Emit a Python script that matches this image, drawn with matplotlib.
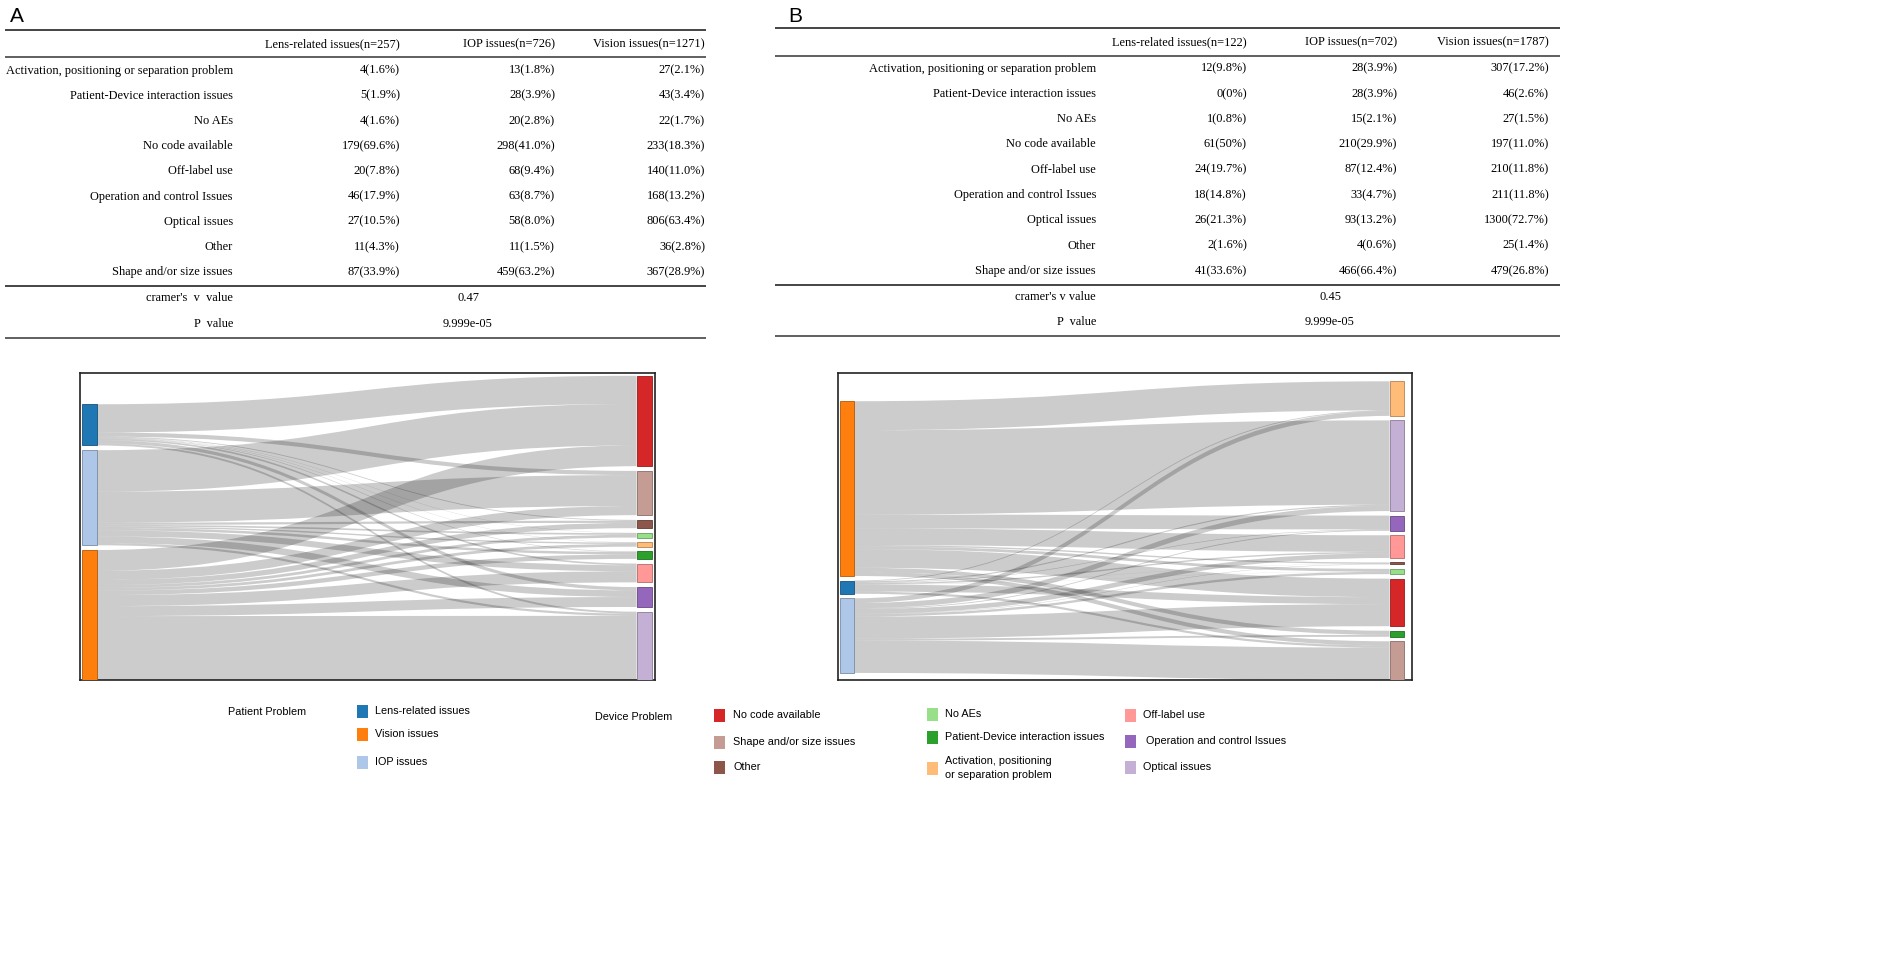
import numpy as np
import matplotlib.pyplot as plt
from matplotlib.path import Path
from matplotlib.patches import PathPatch, Rectangle
import matplotlib.colors as mcolors

W, H = 1902, 956

# ---------------- table data ----------------
row_labels = ['Activation, positioning or separation problem',
              'Patient-Device interaction issues', 'No AEs', 'No code available',
              'Off-label use', 'Operation and control Issues', 'Optical issues',
              'Other', 'Shape and/or size issues']

headers_a = ['Lens-related issues(n=257)', 'IOP issues(n=726)', 'Vision issues(n=1271)']
lens_a = ['4(1.6%)', '5(1.9%)', '4(1.6%)', '179(69.6%)', '20(7.8%)', '46(17.9%)',
          '27(10.5%)', '11(4.3%)', '87(33.9%)']
iop_a = ['13(1.8%)', '28(3.9%)', '20(2.8%)', '298(41.0%)', '68(9.4%)', '63(8.7%)',
         '58(8.0%)', '11(1.5%)', '459(63.2%)']
vision_a = ['27(2.1%)', '43(3.4%)', '22(1.7%)', '233(18.3%)', '140(11.0%)', '168(13.2%)',
            '806(63.4%)', '36(2.8%)', '367(28.9%)']
cramer_a = '0.47'
pval_a = '9.999e-05'

headers_b = ['Lens-related issues(n=122)', 'IOP issues(n=702)', 'Vision issues(n=1787)']
lens_b = ['12(9.8%)', '0(0%)', '1(0.8%)', '61(50%)', '24(19.7%)', '18(14.8%)',
          '26(21.3%)', '2(1.6%)', '41(33.6%)']
iop_b = ['28(3.9%)', '28(3.9%)', '15(2.1%)', '210(29.9%)', '87(12.4%)', '33(4.7%)',
         '93(13.2%)', '4(0.6%)', '466(66.4%)']
vision_b = ['307(17.2%)', '46(2.6%)', '27(1.5%)', '197(11.0%)', '210(11.8%)', '211(11.8%)',
            '1300(72.7%)', '25(1.4%)', '479(26.8%)']
cramer_b = '0.45'
pval_b = '9.999e-05'

# ---------------- sankey data (link widths) ----------------
patient_a = ['Lens-related issues', 'IOP issues', 'Vision issues']
device_a = ['No code available', 'Shape and/or size issues', 'Other', 'No AEs',
            'Activation, positioning or separation problem', 'Patient-Device interaction issues',
            'Off-label use', 'Operation and control Issues', 'Optical issues']
flow_a_lens = [102, 15, 3, 1, 1, 2, 6, 12, 7]
flow_a_iop = [150, 112, 8, 6, 5, 9, 22, 24, 8]
flow_a_vision = [75, 33, 19, 10, 10, 16, 40, 36, 235]

patient_b = ['Vision issues', 'Lens-related issues', 'IOP issues']
device_b = ['Activation, positioning or separation problem', 'Optical issues',
            'Operation and control Issues', 'Off-label use', 'Other', 'No AEs',
            'No code available', 'Patient-Device interaction issues', 'Shape and/or size issues']
flow_b_vision = [105, 305, 50, 60, 5, 10, 67, 15, 15]
flow_b_lens = [3, 4, 2, 5, 0.5, 0.5, 25, 0, 8]
flow_b_iop = [17, 19, 3, 17, 1.5, 8.5, 80, 7, 117]

colors = {
    'Lens-related issues': '#1f77b4',
    'Vision issues': '#ff7f0e',
    'IOP issues': '#aec7e8',
    'No code available': '#d62728',
    'Shape and/or size issues': '#c49c94',
    'Other': '#8c564b',
    'No AEs': '#98df8a',
    'Patient-Device interaction issues': '#2ca02c',
    'Activation, positioning or separation problem': '#ffbb78',
    'Off-label use': '#ff9896',
    'Operation and control Issues': '#9467bd',
    'Optical issues': '#c5b0d5',
}

SERIF = ['Liberation Serif', 'DejaVu Serif']
SANS = ['Liberation Sans', 'DejaVu Sans']


def darker(c, f=0.7):
    r, g, b = mcolors.to_rgb(c)
    return (r * f, g * f, b * f)


def draw_table(ax, x0, x1, lab_x, col_x, stat_x, ys, headers, columns, cv_label, cv, pv):
    y_top, y_head, y_r1, y_row0, dy, y_r2, y_cv, y_p, y_bot = ys
    for y, lw in [(y_top, 1.4), (y_r1, 1.2), (y_r2, 1.4), (y_bot, 1.2)]:
        ax.plot([x0, x1], [y, y], color='#444444', lw=lw, solid_capstyle='butt')
    fs = 8.9
    for cx, h in zip(col_x, headers):
        ax.text(cx, y_head, h, ha='right', va='center', fontsize=fs, family=SERIF)
    for i, lab in enumerate(row_labels):
        y = y_row0 + i * dy
        ax.text(lab_x, y, lab, ha='right', va='center', fontsize=fs, family=SERIF)
        for cx, col in zip(col_x, columns):
            ax.text(cx, y, col[i], ha='right', va='center', fontsize=fs, family=SERIF)
    ax.text(lab_x, y_cv, cv_label, ha='right', va='center', fontsize=fs, family=SERIF)
    ax.text(lab_x, y_p, 'P  value', ha='right', va='center', fontsize=fs, family=SERIF)
    ax.text(stat_x, y_cv, cv, ha='center', va='center', fontsize=fs, family=SERIF)
    ax.text(stat_x, y_p, pv, ha='center', va='center', fontsize=fs, family=SERIF)


def draw_sankey(ax, left_nodes, right_nodes, flows, top_left, top_right, pad, xl, xr, nw):
    flows = np.array(flows, dtype=float)
    lv = flows.sum(axis=1)
    rv = flows.sum(axis=0)
    ly0 = top_left + np.concatenate([[0], np.cumsum(lv + pad)[:-1]])
    ry0 = top_right + np.concatenate([[0], np.cumsum(rv + pad)[:-1]])
    xs, xt = xl + nw, xr
    xm = (xs + xt) / 2
    for i in range(len(left_nodes)):
        for j in range(len(right_nodes)):
            w = flows[i, j]
            if w <= 0:
                continue
            s0 = ly0[i] + flows[i, :j].sum()
            t0 = ry0[j] + flows[:i, j].sum()
            s1, t1 = s0 + w, t0 + w
            verts = [(xs, s0), (xm, s0), (xm, t0), (xt, t0),
                     (xt, t1), (xm, t1), (xm, s1), (xs, s1), (xs, s0)]
            codes = [Path.MOVETO, Path.CURVE4, Path.CURVE4, Path.CURVE4,
                     Path.LINETO, Path.CURVE4, Path.CURVE4, Path.CURVE4, Path.CLOSEPOLY]
            ax.add_patch(PathPatch(Path(verts, codes), facecolor='black', alpha=0.2,
                                   edgecolor='none', lw=0, zorder=1))
    for name, y0, v in zip(left_nodes, ly0, lv):
        ax.add_patch(Rectangle((xl, y0), nw, v, facecolor=colors[name],
                               edgecolor=darker(colors[name]), lw=0.6, zorder=3))
    for name, y0, v in zip(right_nodes, ry0, rv):
        ax.add_patch(Rectangle((xr, y0), nw, v, facecolor=colors[name],
                               edgecolor=darker(colors[name]), lw=0.6, zorder=3))
    ax.set_xlim(0, 1)
    ax.set_ylim(1110, 0)
    ax.set_xticks([])
    ax.set_yticks([])
    for sp in ax.spines.values():
        sp.set_linewidth(1.2)
        sp.set_color('#222222')


fig = plt.figure(figsize=(W / 100, H / 100), dpi=100)
ax0 = fig.add_axes([0, 0, 1, 1])
ax0.set_xlim(0, W)
ax0.set_ylim(H, 0)
ax0.axis('off')

# panel letters
ax0.text(10, 16, 'A', fontsize=15, family=SANS, ha='left', va='center')
ax0.text(788, 16, 'B', fontsize=15, family=SANS, ha='left', va='center')

draw_table(ax0, 5, 706, 233, [400, 555, 705], 468,
           (30, 44, 57, 70.5, 25.2, 286, 298, 324, 338),
           headers_a, [lens_a, iop_a, vision_a], "cramer's  v  value", cramer_a, pval_a)
draw_table(ax0, 775, 1560, 1096, [1247, 1397, 1549], 1330,
           (28, 42, 56, 68.5, 25.3, 285, 297, 322, 336),
           headers_b, [lens_b, iop_b, vision_b], "cramer's v value", cramer_b, pval_b)

# sankey panels
axA = fig.add_axes([80 / W, 1 - 680 / H, 575 / W, 307 / H])
draw_sankey(axA, patient_a, device_a, [flow_a_lens, flow_a_iop, flow_a_vision],
            top_left=113, top_right=10, pad=17, xl=0.003, xr=0.968, nw=0.026)
axB = fig.add_axes([838 / W, 1 - 680 / H, 574 / W, 307 / H])
draw_sankey(axB, patient_b, device_b, [flow_b_vision, flow_b_lens, flow_b_iop],
            top_left=102, top_right=30, pad=16.25, xl=0.003, xr=0.961, nw=0.025)

# legend
lfs = 7.8
pw, ph = 11, 13
ax0.text(228, 712, 'Patient Problem', fontsize=lfs, family=SANS, va='center')
for name, y in zip(['Lens-related issues', 'Vision issues', 'IOP issues'], [711, 734, 762]):
    ax0.add_patch(Rectangle((357, y - ph / 2), pw, ph, facecolor=colors[name], edgecolor='none'))
    ax0.text(375, y, name, fontsize=lfs, family=SANS, va='center')

ax0.text(595, 717, 'Device Problem', fontsize=lfs, family=SANS, va='center')
legend_cols = [
    (714, 733, [('No code available', 715, 'No code available'),
                ('Shape and/or size issues', 742, 'Shape and/or size issues'),
                ('Other', 767, 'Other')]),
    (927, 945, [('No AEs', 714, 'No AEs'),
                ('Patient-Device interaction issues', 737, 'Patient-Device interaction issues'),
                ('Activation, positioning or separation problem', 768,
                 'Activation, positioning\nor separation problem')]),
    (1125, 1143, [('Off-label use', 715, 'Off-label use'),
                  ('Operation and control Issues', 741, ' Operation and control Issues'),
                  ('Optical issues', 767, 'Optical issues')]),
]
for px, tx, items in legend_cols:
    for name, y, label in items:
        ax0.add_patch(Rectangle((px, y - ph / 2), pw, ph, facecolor=colors[name], edgecolor='none'))
        ax0.text(tx, y, label, fontsize=lfs, family=SANS, va='center', linespacing=1.5)

fig.savefig('out.png', dpi=100)
